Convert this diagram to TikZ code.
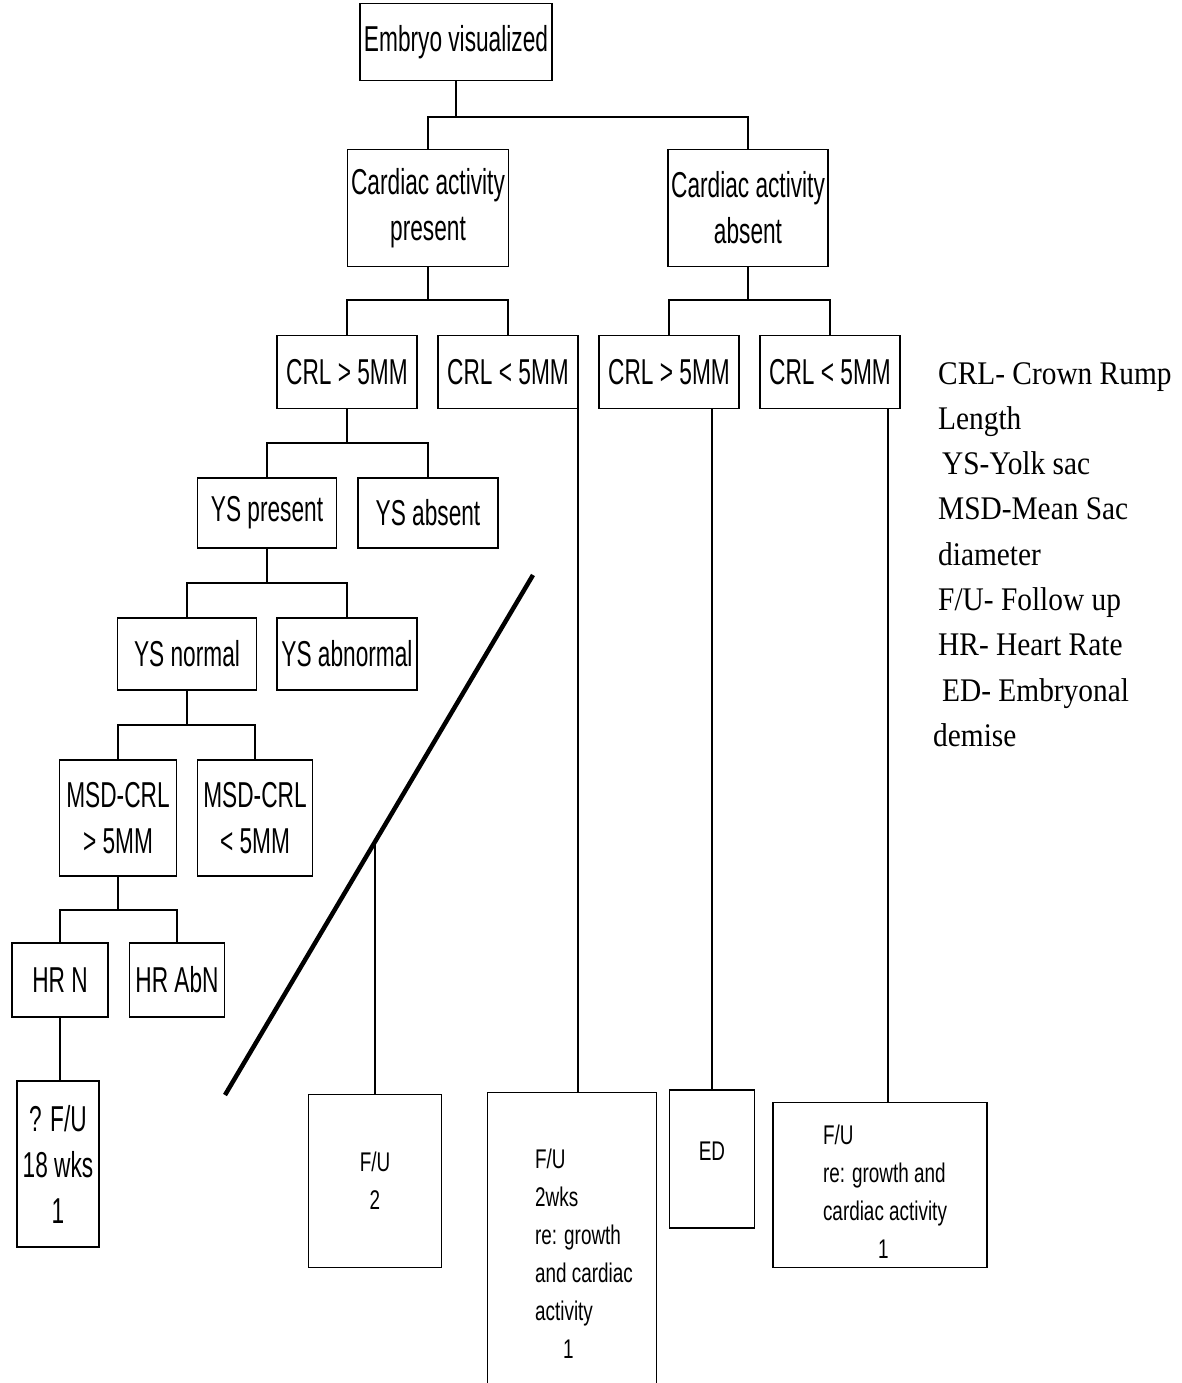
\documentclass[tikz,border=0pt]{standalone}
\usepackage{fontspec}
\usepackage{tikz}
\usetikzlibrary{calc}
\newfontfamily\boxfont[FakeStretch=0.63]{Liberation Sans}
\newfontfamily\notefont[FakeStretch=0.7]{Liberation Sans}
\newfontfamily\keyfont[FakeStretch=0.89]{Liberation Serif}
\tikzset{
    stepbox/.style={
        draw,
        line width=1.6pt,
        inner sep=0pt,
        align=center,
        font=\boxfont\fontsize{36}{46}\selectfont
    },
    notebox/.style={
        stepbox,
        align=left,
        font=\notefont\fontsize{27}{38}\selectfont
    },
    link/.style={line width=1.6pt},
    keytext/.style={align=left, inner sep=0pt, font=\keyfont\fontsize{33}{45.3}\selectfont}
}

\begin{document}
\begin{tikzpicture}[x=1pt, y=-1pt]
    \clip (0,0) rectangle (1181,1383);
    % Top levels
    \node[stepbox, minimum width=192, minimum height=77] (emb) at (456,42) {Embryo visualized};
    \node[stepbox, minimum width=161, minimum height=117] (cpres) at (428,208) {Cardiac activity\\present};
    \node[stepbox, minimum width=160, minimum height=117] (cabs) at (748,208) {Cardiac activity\\absent};
    
    % CRL row
    \node[stepbox, minimum width=140, minimum height=73] (crlA) at (347,372) {CRL > 5MM};
    \node[stepbox, minimum width=140, minimum height=73] (crlB) at (508,372) {CRL < 5MM};
    \node[stepbox, minimum width=140, minimum height=73] (crlC) at (669,372) {CRL > 5MM};
    \node[stepbox, minimum width=140, minimum height=73] (crlD) at (830,372) {CRL < 5MM};
    
    % Yolk sac rows
    \node[stepbox, minimum width=139, minimum height=70] (ysp) at (267,513) {YS present};
    \node[stepbox, minimum width=140, minimum height=70] (ysa) at (428,513) {YS absent};
    \node[stepbox, minimum width=139, minimum height=72] (ysn) at (187,654) {YS normal};
    \node[stepbox, minimum width=140, minimum height=72] (ysab) at (347,654) {YS abnormal};
    
    % MSD and HR rows
    \node[stepbox, minimum width=117, minimum height=116] (msdA) at (118,818) {MSD-CRL\\> 5MM};
    \node[stepbox, minimum width=115, minimum height=116] (msdB) at (255,818) {MSD-CRL\\< 5MM};
    \node[stepbox, minimum width=96, minimum height=74] (hrn) at (60,980) {HR N};
    \node[stepbox, minimum width=95, minimum height=74] (hrab) at (177,980) {HR AbN};
    
    % Outcomes
    \node[stepbox, minimum width=82, minimum height=166] (fuA) at (58,1164) {? F/U\\18 wks\\1};
    \node[stepbox, align=center, font=\notefont\fontsize{27}{38}\selectfont,
          minimum width=133, minimum height=173] (fuC) at (375,1181) {F/U\\2};
    \node[notebox, minimum width=169, minimum height=327] (fuB) at (572,1256) {\begin{tabular}{@{\hspace{24pt}}l@{}}F/U\\2wks\\re: growth\\and cardiac\\activity\\\hspace*{28pt}1\end{tabular}};
    \node[notebox, minimum width=85, minimum height=138] (ed) at (712,1159) {\raisebox{8pt}[\height][\depth]{ED}};
    \node[notebox, minimum width=214, minimum height=165] (fuD) at (880,1185) {\raisebox{-9pt}[\height][\depth]{\begin{tabular}{@{\hspace{10pt}}l@{}}F/U\\re: growth and\\cardiac activity\\\hspace*{55pt}1\end{tabular}}};
    
    % Key
    \node[keytext, anchor=north west] (key) at (938,362) {CRL- Crown Rump\\Length\\\hspace*{4pt}YS-Yolk sac\\MSD-Mean Sac\\diameter\\F/U- Follow up\\HR- Heart Rate\\\hspace*{4pt}ED- Embryonal\\\hspace*{-5pt}demise};
    
    % Junctions
    \coordinate (j1) at (456,117);
    \coordinate (j2) at (428,300);
    \coordinate (j3) at (748,300);
    \coordinate (j4) at (347,443);
    \coordinate (j5) at (267,583);
    \coordinate (j6) at (187,725);
    \coordinate (j7) at (118,910);
    \coordinate (slashA) at (533,575);
    \coordinate (slashB) at (225,1095);
    \coordinate (cut) at (375,842);
    
    % Connectors
    \draw[link] (emb) -- (j1);
    \draw[link] (cpres.north) |- (j1) -| (cabs.north);
    \draw[link] (cpres) -- (j2);
    \draw[link] (crlA.north) |- (j2) -| (crlB.north);
    \draw[link] (cabs) -- (j3);
    \draw[link] (crlC.north) |- (j3) -| (crlD.north);
    \draw[link] (crlA) -- (j4);
    \draw[link] (ysp.north) |- (j4) -| (ysa.north);
    \draw[link] (ysp) -- (j5);
    \draw[link] (ysn.north) |- (j5) -| (ysab.north);
    \draw[link] (ysn) -- (j6);
    \draw[link] (msdA.north) |- (j6) -| (msdB.north);
    \draw[link] (msdA) -- (j7);
    \draw[link] (hrn.north) |- (j7) -| (hrab.north);
    \draw[link] (hrn) -- (hrn |- fuA.north);
    \draw[link] ([xshift=-1]crlB.south east) -- ([xshift=-1]crlB.south east |- fuB.north);
    \draw[link] (ed.north) -- (ed.north |- crlC.south);
    \draw[link] ([xshift=-13]crlD.south east) -- ([xshift=-13]crlD.south east |- fuD.north);
    \draw[link] (cut) -- (fuC.north);
    \draw[line width=4.5pt] (slashA) -- (slashB);
\end{tikzpicture}
\end{document}
